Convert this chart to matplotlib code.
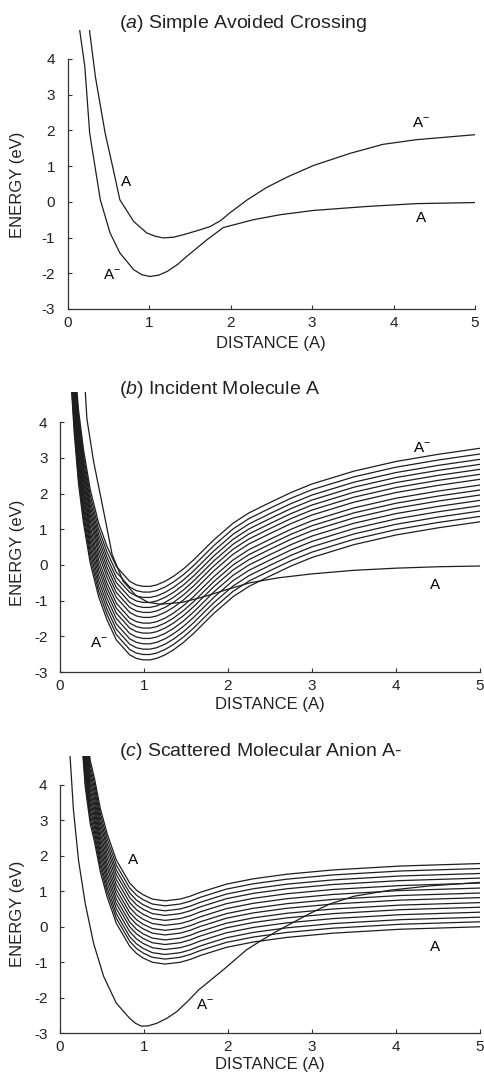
import matplotlib
matplotlib.use("Agg")
import matplotlib.pyplot as plt
import numpy as np

plt.rcParams['font.family'] = ['Liberation Sans', 'DejaVu Sans']
plt.rcParams['mathtext.fontset'] = 'custom'
plt.rcParams['mathtext.rm'] = 'Liberation Sans'
plt.rcParams['mathtext.it'] = 'Liberation Sans:italic'
plt.rcParams['axes.unicode_minus'] = False

# (a) two adiabatic curves
a_upper_x = [0.26, 0.27, 0.34, 0.46, 0.56, 0.64, 0.81, 0.97, 1.07, 1.17, 1.3, 1.42,
             1.6, 1.75, 1.88, 1.99, 2.2, 2.44, 2.7, 3.02, 3.47, 3.87, 4.28, 5.0]
a_upper_y = [5.0, 4.76, 3.5, 1.92, 0.9, 0.06, -0.55, -0.87, -0.96, -1.01, -0.99, -0.92,
             -0.8, -0.69, -0.52, -0.31, 0.05, 0.4, 0.7, 1.02, 1.36, 1.61, 1.74, 1.88]
a_lower_x = [0.14, 0.15, 0.21, 0.27, 0.40, 0.52, 0.64, 0.81, 0.91, 1.01, 1.12, 1.22,
             1.35, 1.46, 1.71, 1.91, 2.28, 2.61, 3.02, 3.67, 4.28, 5.0]
a_lower_y = [5.0, 4.76, 3.79, 1.92, 0.06, -0.87, -1.43, -1.9, -2.04, -2.09, -2.05, -1.95,
             -1.75, -1.53, -1.06, -0.72, -0.5, -0.36, -0.24, -0.13, -0.05, -0.02]

# (b) family of anion curves (lowest one given, others shifted to their minima) + neutral
b_anion_x = [0.13, 0.14, 0.17, 0.22, 0.28, 0.36, 0.46, 0.56, 0.67, 0.83, 0.91, 0.99,
             1.07, 1.15, 1.25, 1.35, 1.47, 1.59, 1.83, 2.06, 2.25, 2.5, 2.75, 3.0,
             3.5, 4.0, 4.5, 5.0]
b_anion_y = [5.3, 4.81, 3.69, 2.29, 1.17, 0.05, -0.89, -1.54, -2.1, -2.52, -2.62, -2.66,
             -2.66, -2.62, -2.52, -2.38, -2.17, -1.92, -1.36, -0.89, -0.6, -0.31, -0.03, 0.21,
             0.57, 0.84, 1.04, 1.21]
b_anion_min = [-2.66, -2.51, -2.36, -2.21, -2.06, -1.91, -1.77, -1.63, -1.47, -1.33,
               -1.19, -1.05, -0.91, -0.76, -0.60]
b_neutral_x = [0.30, 0.32, 0.40, 0.54, 0.62, 0.75, 0.9, 1.05, 1.2, 1.45, 1.7, 2.0, 2.26,
               2.6, 3.0, 3.5, 4.0, 4.5, 5.0]
b_neutral_y = [4.9, 4.1, 2.9, 1.26, 0.3, -0.45, -0.85, -1.05, -1.1, -1.05, -0.9, -0.68,
               -0.5, -0.36, -0.25, -0.15, -0.09, -0.05, -0.03]

# (c) single anion curve + family of neutral curves (shape relative to minimum)
c_anion_x = [0.11, 0.12, 0.16, 0.22, 0.30, 0.40, 0.52, 0.67, 0.83, 0.9, 0.97, 1.05,
             1.15, 1.27, 1.39, 1.52, 1.65, 1.95, 2.22, 2.4, 2.6, 2.98, 3.21, 3.5,
             3.93, 4.4, 5.0]
c_anion_y = [5.1, 4.79, 3.29, 1.88, 0.66, -0.47, -1.4, -2.15, -2.58, -2.72, -2.8, -2.79,
             -2.72, -2.58, -2.39, -2.1, -1.78, -1.2, -0.65, -0.38, -0.1, 0.38, 0.64, 0.86,
             1.03, 1.15, 1.25]
c_neutral_x = [0.26, 0.30, 0.36, 0.41, 0.48, 0.56, 0.67, 0.83, 0.91, 0.99, 1.1, 1.25,
               1.43, 1.55, 1.67, 1.98, 2.3, 2.7, 3.25, 4.05, 5.0]
c_neutral_rel = [6.3, 5.0, 3.95, 3.45, 2.6, 1.9, 1.15, 0.5, 0.3, 0.17, 0.05, 0.0,
                 0.05, 0.13, 0.24, 0.47, 0.62, 0.75, 0.87, 0.98, 1.05]
c_neutral_min = [-1.05, -0.91, -0.78, -0.64, -0.50, -0.37, -0.23, -0.10, 0.04, 0.18,
                 0.32, 0.45, 0.59, 0.73]

LC = '#1e1e1e'
LW = 0.9
AM = r'A$^{\mathregular{-}}$'


def setup(ax, ytop, xlab_y, ylab_x, ylab_y):
    ax.set_xlim(0, 5)
    ax.set_ylim(-3, ytop)
    ax.spines[['top', 'right']].set_visible(False)
    ax.spines['left'].set_bounds(-3, 4)
    for s in ['left', 'bottom']:
        ax.spines[s].set_linewidth(0.9)
        ax.spines[s].set_color('#333333')
    ax.set_xticks(range(0, 6))
    ax.set_yticks(range(-3, 5))
    ax.tick_params(direction='in', length=3, width=0.8, colors='#333333',
                   labelcolor='#222222', labelsize=11)
    ax.tick_params(axis='x', pad=5)
    ax.tick_params(axis='y', pad=9)
    ax.set_xlabel('DISTANCE (A)', fontsize=12, color='#222222')
    ax.set_ylabel('ENERGY (eV)', fontsize=12, color='#222222')
    ax.xaxis.set_label_coords(0.5, xlab_y)
    ax.yaxis.set_label_coords(ylab_x, ylab_y)


fig = plt.figure(figsize=(4.85, 10.72), dpi=100)
H = 1072.0
W = 485.0

ax1 = fig.add_axes([67.7 / W, 1 - 309 / H, (475 - 67.7) / W, (309 - 30.4) / H])
ax2 = fig.add_axes([60 / W, 1 - 672 / H, 420 / W, (672 - 391.9) / H])
ax3 = fig.add_axes([60 / W, 1 - 1033.3 / H, 420 / W, (1033.3 - 756.3) / H])

# panel a
ax1.plot(a_upper_x, a_upper_y, color=LC, lw=LW)
ax1.plot(a_lower_x, a_lower_y, color=LC, lw=LW)
setup(ax1, 4.8, -0.097, -0.105, 0.445)
ax1.text(0.72, 0.56, 'A', fontsize=11, ha='center', va='center')
ax1.text(0.54, -2.05, AM, fontsize=11, ha='center', va='center')
ax1.text(4.34, 2.2, AM, fontsize=11, ha='center', va='center')
ax1.text(4.34, -0.46, 'A', fontsize=11, ha='center', va='center')

# panel b
bx = np.array(b_anion_x)
by = np.array(b_anion_y)
for m in b_anion_min:
    ax2.plot(bx, by - min(b_anion_y) + m, color=LC, lw=LW)
ax2.plot(b_neutral_x, b_neutral_y, color=LC, lw=LW)
setup(ax2, 4.85, -0.089, -0.083, 0.425)
ax2.text(4.31, 3.27, AM, fontsize=11, ha='center', va='center')
ax2.text(4.46, -0.56, 'A', fontsize=11, ha='center', va='center')
ax2.text(0.46, -2.19, AM, fontsize=11, ha='center', va='center')

# panel c
cx = np.array(c_neutral_x)
cr = np.array(c_neutral_rel)
for m in c_neutral_min:
    ax3.plot(cx, cr + m, color=LC, lw=LW)
ax3.plot(c_anion_x, c_anion_y, color=LC, lw=LW)
setup(ax3, 4.8, -0.086, -0.083, 0.43)
ax3.text(0.87, 1.88, 'A', fontsize=11, ha='center', va='center')
ax3.text(4.46, -0.56, 'A', fontsize=11, ha='center', va='center')
ax3.text(1.73, -2.2, AM, fontsize=11, ha='center', va='center')

# panel titles
fig.text(119 / W, 1 - 23 / H, r'($\mathit{a}$) Simple Avoided Crossing',
         fontsize=14, ha='left', va='center', color='#222222')
fig.text(119 / W, 1 - 390 / H, r'($\mathit{b}$) Incident Molecule A',
         fontsize=14, ha='left', va='center', color='#222222')
fig.text(119 / W, 1 - 751.5 / H, r'($\mathit{c}$) Scattered Molecular Anion A-',
         fontsize=14, ha='left', va='center', color='#222222')

fig.savefig('out.png', dpi=100)
